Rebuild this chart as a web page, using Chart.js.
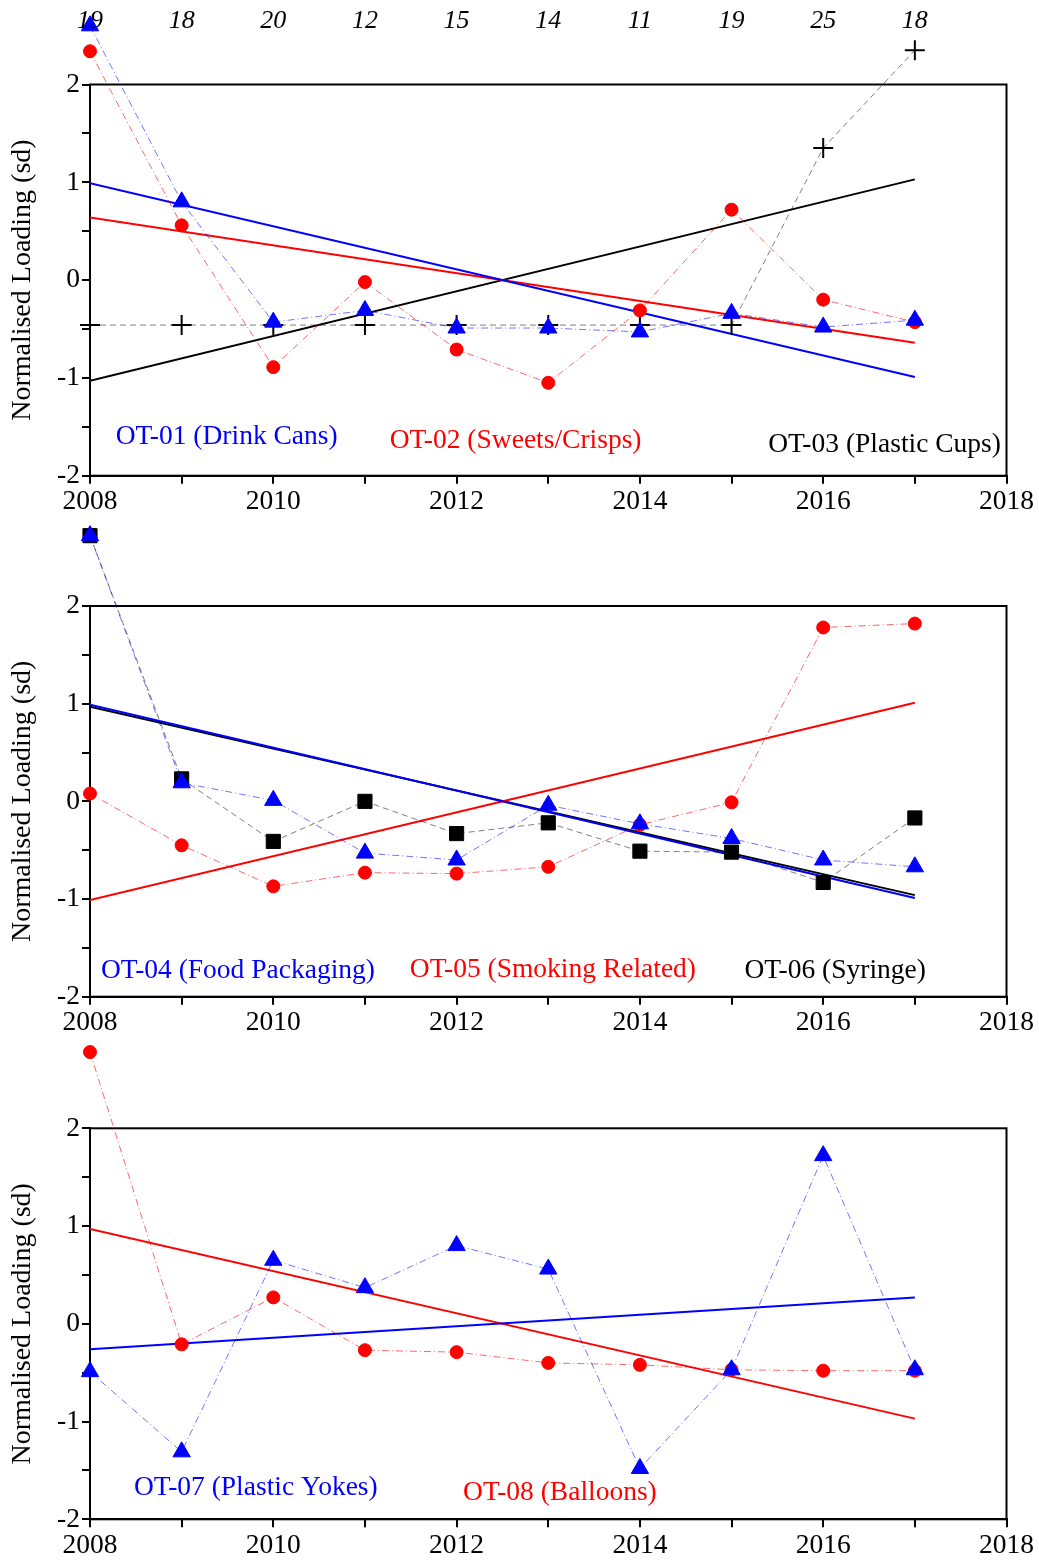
<!DOCTYPE html>
<html>
<head>
<meta charset="utf-8">
<script src="https://cdn.jsdelivr.net/npm/chart.js@4.4.1/dist/chart.umd.min.js"></script>
<style>
  body { margin: 0; background: #fff; }
  .panel { position: relative; width: 1039px; height: 520px; }
</style>
</head>
<body>
<div class="panel"><canvas id="p1"></canvas></div>
<div class="panel"><canvas id="p2"></canvas></div>
<div class="panel"><canvas id="p3"></canvas></div>
<script>
// --- Data ---
const years = [2008, 2009, 2010, 2011, 2012, 2013, 2014, 2015, 2016, 2017];
const counts = [19, 18, 20, 12, 15, 14, 11, 19, 25, 18];
const trendYears = [2008, 2017];

const ot01 = [2.60, 0.80, -0.43, -0.31, -0.49, -0.49, -0.53, -0.34, -0.48, -0.41];
const ot02 = [2.34, 0.56, -0.89, -0.02, -0.71, -1.05, -0.31, 0.72, -0.20, -0.43];
const ot03 = [-0.46, -0.46, -0.46, -0.46, -0.46, -0.46, -0.46, -0.46, 1.35, 2.35];
const ot01Trend = [0.99, -0.99];
const ot02Trend = [0.64, -0.64];
const ot03Trend = [-1.03, 1.03];

const ot04 = [2.72, 0.19, 0.01, -0.53, -0.60, -0.04, -0.23, -0.38, -0.60, -0.67];
const ot05 = [0.08, -0.45, -0.87, -0.73, -0.74, -0.67, -0.24, -0.01, 1.78, 1.82];
const ot06 = [2.72, 0.23, -0.41, 0.00, -0.33, -0.22, -0.51, -0.52, -0.83, -0.17];
const ot04Trend = [0.99, -0.99];
const ot05Trend = [-1.01, 1.01];
const ot06Trend = [0.97, -0.96];

const ot07 = [-0.49, -1.31, 0.65, 0.37, 0.80, 0.56, -1.48, -0.47, 1.72, -0.47];
const ot08 = [2.78, -0.21, 0.27, -0.27, -0.29, -0.40, -0.42, -0.47, -0.48, -0.48];
const ot07Trend = [-0.26, 0.27];
const ot08Trend = [0.97, -0.97];

const SERIF = "'Liberation Serif', 'Times New Roman', serif";
const BLUE = "#0000ff", RED = "#ff0000", BLACK = "#000000";

function pts(xs, ys) {
  return xs.map((x, i) => ({ x, y: ys[i] }));
}

function series(vals, color, lineColor, dash, style, radius) {
  return {
    data: pts(years, vals),
    borderColor: lineColor,
    borderWidth: 1,
    borderDash: dash,
    pointStyle: style,
    pointRadius: radius,
    pointBackgroundColor: color,
    pointBorderColor: color,
    pointBorderWidth: style === "cross" ? 2 : 1,
    clip: false,
    order: 1,
  };
}

function trend(vals, color) {
  return {
    data: pts(trendYears, vals),
    borderColor: color,
    borderWidth: 2,
    pointRadius: 0,
    order: 5,
  };
}

// frame around plot, markers above the plot, text labels and counts on top
const extras = {
  id: "extras",
  beforeDatasetsDraw(chart) {
    const { ctx, chartArea: a } = chart;
    ctx.save();
    ctx.strokeStyle = "#000";
    ctx.lineWidth = 2;
    ctx.strokeRect(a.left, a.top, a.width, a.height);
    ctx.restore();
  },
  afterDatasetDraw(chart, args) {
    // Chart.js skips points outside the chart area; the reference shows them
    const a = chart.chartArea;
    const big = { left: -1e4, top: -1e4, right: 1e4, bottom: 1e4 };
    args.meta.data.forEach(pt => {
      if (pt.options && pt.options.radius > 0 && pt.y < a.top - 2) pt.draw(chart.ctx, big);
    });
  },
  afterDraw(chart, args, opts) {
    const { ctx, scales: { x, y } } = chart;
    ctx.save();
    ctx.textBaseline = "middle";
    ctx.font = "27.5px " + SERIF;
    ctx.textAlign = "left";
    (opts.labels || []).forEach(l => {
      ctx.fillStyle = l.color;
      ctx.fillText(l.text, x.getPixelForValue(l.x), y.getPixelForValue(l.y));
    });
    if (opts.counts) {
      ctx.font = "italic 26px " + SERIF;
      ctx.fillStyle = "#000";
      ctx.textAlign = "center";
      opts.counts.forEach((c, i) => {
        ctx.fillText(String(c), x.getPixelForValue(years[i]), y.getPixelForValue(2.65));
      });
    }
    ctx.restore();
  }
};

function makePanel(id, datasets, labels, top, bottom, showCounts) {
  new Chart(document.getElementById(id), {
    type: "line",
    data: { datasets },
    plugins: [extras],
    options: {
      responsive: true,
      maintainAspectRatio: false,
      animation: false,
      layout: { padding: { top: top, right: 32.5, left: 0, bottom: 0 } },
      plugins: {
        legend: { display: false },
        tooltip: { enabled: false },
        extras: { labels, counts: showCounts ? counts : null },
      },
      scales: {
        x: {
          type: "linear",
          min: 2008, max: 2018,
          afterFit: s => { s.height = 520 - bottom; },
          ticks: {
            stepSize: 1, autoSkip: false, maxRotation: 0, padding: 2,
            color: "#000", font: { family: SERIF, size: 27.5 },
            callback: v => (v % 2 === 0 ? String(v) : ""),
          },
          grid: { drawOnChartArea: false, tickLength: 8, color: "#000", lineWidth: 2 },
          border: { color: "#000", width: 2 },
        },
        y: {
          min: -2, max: 2,
          afterFit: s => { s.width = 90; },
          ticks: {
            stepSize: 0.5, padding: 2,
            color: "#000", font: { family: SERIF, size: 27.5 },
            callback: v => (Number.isInteger(v) ? String(v) : ""),
          },
          grid: { drawOnChartArea: false, tickLength: 8, color: "#000", lineWidth: 2 },
          border: { color: "#000", width: 2 },
          title: {
            display: true, text: "Normalised Loading (sd)", color: "#000",
            font: { family: SERIF, size: 28 }, padding: { top: 6, bottom: 0 },
          },
        },
      },
    },
  });
}

const dashDot = [7, 3, 1, 3];

makePanel("p1", [
  series(ot01, BLUE, "rgba(0,0,255,0.55)", dashDot, "triangle", 10),
  series(ot02, RED, "rgba(255,0,0,0.6)", dashDot, "circle", 6.5),
  series(ot03, BLACK, "rgba(0,0,0,0.5)", [6, 4], "cross", 10),
  trend(ot01Trend, BLUE),
  trend(ot02Trend, RED),
  trend(ot03Trend, BLACK),
], [
  { text: "OT-01 (Drink Cans)", color: BLUE, x: 2008.28, y: -1.60 },
  { text: "OT-02 (Sweets/Crisps)", color: RED, x: 2011.27, y: -1.64 },
  { text: "OT-03 (Plastic Cups)", color: BLACK, x: 2015.40, y: -1.68 },
], 84.5, 475.7, true);

makePanel("p2", [
  series(ot04, BLUE, "rgba(0,0,255,0.55)", dashDot, "triangle", 10),
  series(ot05, RED, "rgba(255,0,0,0.6)", dashDot, "circle", 6.5),
  series(ot06, BLACK, "rgba(0,0,0,0.5)", [6, 4], "rect", 10),
  trend(ot04Trend, BLUE),
  trend(ot05Trend, RED),
  trend(ot06Trend, BLACK),
], [
  { text: "OT-04 (Food Packaging)", color: BLUE, x: 2008.12, y: -1.73 },
  { text: "OT-05 (Smoking Related)", color: RED, x: 2011.49, y: -1.72 },
  { text: "OT-06 (Syringe)", color: BLACK, x: 2015.14, y: -1.73 },
], 86, 476.7, false);

makePanel("p3", [
  series(ot07, BLUE, "rgba(0,0,255,0.55)", dashDot, "triangle", 10),
  series(ot08, RED, "rgba(255,0,0,0.6)", dashDot, "circle", 6.5),
  trend(ot07Trend, BLUE),
  trend(ot08Trend, RED),
], [
  { text: "OT-07 (Plastic Yokes)", color: BLUE, x: 2008.48, y: -1.68 },
  { text: "OT-08 (Balloons)", color: RED, x: 2012.07, y: -1.73 },
], 88.3, 479.3, false);
</script>
</body>
</html>
